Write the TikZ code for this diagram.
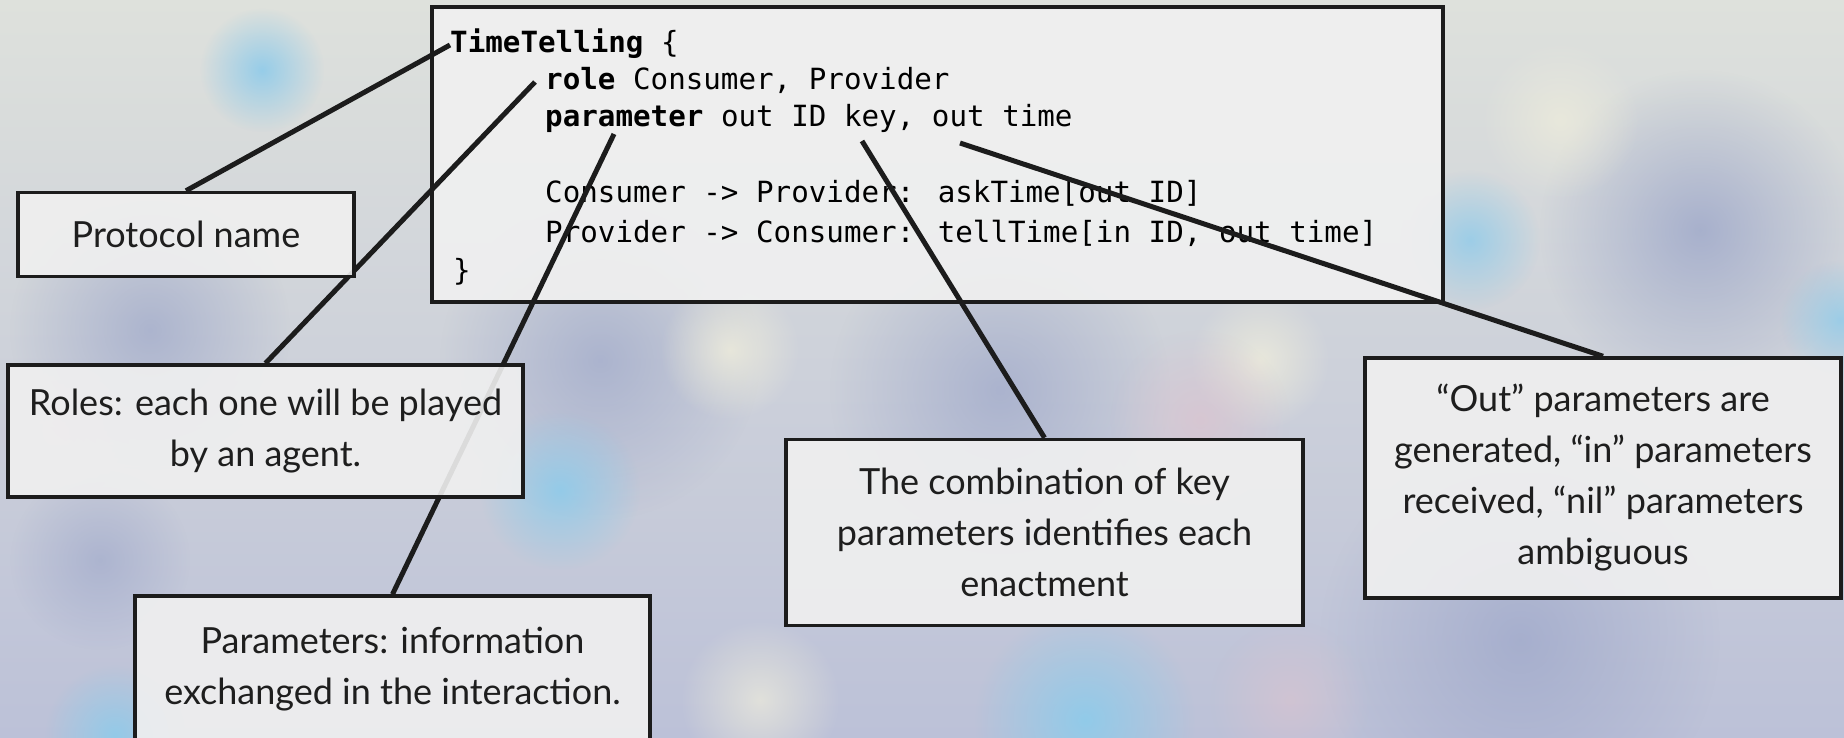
\documentclass[tikz,border=0pt]{standalone}
\usepackage{fontspec}
\setmainfont{Lato}
\newfontfamily\codefont{DejaVu Sans Mono}
\usetikzlibrary{fadings}
\tikzfading[name=fuzzy, inner color=transparent!0, outer color=transparent!100]
\pgfdeclarelayer{back}
\pgfdeclarelayer{lines}
\pgfsetlayers{back,lines,main}
\definecolor{bgA}{HTML}{DEE1DC}
\definecolor{bgB}{HTML}{C2C3D6}
\definecolor{bgC}{HTML}{BCC1D8}
\definecolor{sky}{HTML}{8FCBEA}
\definecolor{lav}{HTML}{95A0C6}
\definecolor{cream}{HTML}{EFEDDC}
\definecolor{rose}{HTML}{DCC3CF}
\definecolor{boxfill}{HTML}{F0F0F0}
\definecolor{ink}{HTML}{1C1C1C}
\definecolor{txt}{HTML}{1E1E1E}
\tikzset{
  blob/.style={fill=#1, path fading=fuzzy},
  notebox/.style={draw=ink, line width=3.5pt, fill=boxfill, fill opacity=0.9, text opacity=1,
    text=txt, font=\fontsize{36}{51}\selectfont, align=center, inner sep=0pt},
  codebox/.style={draw=ink, line width=3.5pt, fill=boxfill, fill opacity=0.92, inner sep=0pt},
  codeline/.style={anchor=base west, inner sep=0pt, font=\codefont\fontsize{29.2}{38}\selectfont, text=black},
  conn/.style={draw=ink, line width=5pt}
}
\begin{document}
\begin{tikzpicture}[x=1pt,y=-1pt]
\useasboundingbox (0,0) rectangle (1844,738);
\begin{pgfonlayer}{back}
% background
\shade[top color=bgA, middle color=bgB, bottom color=bgC] (0,0) rectangle (1844,738);
\begin{scope}
\clip (0,0) rectangle (1844,738);
\fill[blob=lav, opacity=0.6] (150,330) circle (140);
\fill[blob=lav, opacity=0.6] (600,360) circle (160);
\fill[blob=lav, opacity=0.6] (1000,390) circle (170);
\fill[blob=lav, opacity=0.7] (1700,230) circle (160);
\fill[blob=lav, opacity=0.6] (1520,640) circle (200);
\fill[blob=lav, opacity=0.5] (100,560) circle (90);
\fill[blob=cream, opacity=0.8] (730,350) circle (70);
\fill[blob=cream, opacity=0.8] (1260,360) circle (70);
\fill[blob=cream, opacity=0.7] (760,700) circle (80);
\fill[blob=cream, opacity=0.7] (1560,120) circle (80);
\fill[blob=rose, opacity=0.7] (1200,420) circle (90);
\fill[blob=rose, opacity=0.6] (60,430) circle (70);
\fill[blob=rose, opacity=0.6] (1290,700) circle (80);
\fill[blob=sky, opacity=0.9] (262,70) circle (62);
\fill[blob=sky, opacity=0.9] (560,490) circle (80);
\fill[blob=sky, opacity=0.95] (1085,720) circle (110);
\fill[blob=sky, opacity=0.9] (115,735) circle (70);
\fill[blob=sky, opacity=0.8] (1470,240) circle (70);
\fill[blob=sky, opacity=0.8] (1840,320) circle (60);
\end{scope}
% code box
\node[codebox, minimum width=1011pt, minimum height=295pt] (code) at (937.5,154.5) {};
\node[codeline] (c1) at (450,53) {\bfseries TimeTelling\mdseries{} \{};
\node[codeline] (c2) at (545,90) {\bfseries role\mdseries{} Consumer, Provider};
\node[codeline] (c3) at (545,127) {\bfseries parameter\mdseries{} out ID key, out time};
\node[codeline] (c4) at (545,203) {Consumer -> Provider: askTime[out ID]};
\node[codeline] (c5) at (545,242) {Provider -> Consumer: tellTime[in ID, out time]};
\node[codeline] (c6) at (453,280) {\}};
\end{pgfonlayer}
% anchor points in the code
\coordinate (pName) at (450,45);
\coordinate (pRole) at (535,82);
\coordinate (pParam) at (614,134);
\coordinate (pKey) at (862,141);
\coordinate (pOut) at (960,143);
% boxes
\node[notebox, minimum width=336pt, minimum height=84pt] (proto) at (186,234.5) {Protocol name};
\node[notebox, minimum width=515pt, minimum height=132pt] (roles) at (265.5,431) {Roles: each one will be played\\by an agent.};
\node[notebox, minimum width=515pt, minimum height=146pt] (params) at (392.5,669) {Parameters: information\\exchanged in the interaction.};
\node[notebox, minimum width=517pt, minimum height=186pt] (key) at (1044.5,532.5) {The combination of key\\parameters identifies each\\enactment};
\node[notebox, minimum width=476pt, minimum height=240pt] (out) at (1603,478) {“Out” parameters are\\generated, “in” parameters\\received, “nil” parameters\\ambiguous};
% connectors
\begin{pgfonlayer}{lines}
\draw[conn] (proto.north) -- (pName);
\draw[conn] (roles.north) -- (pRole);
\draw[conn] (params.north) -- (pParam);
\draw[conn] (key.north) -- (pKey);
\draw[conn] (out.north) -- (pOut);
\end{pgfonlayer}
\end{tikzpicture}
\end{document}
